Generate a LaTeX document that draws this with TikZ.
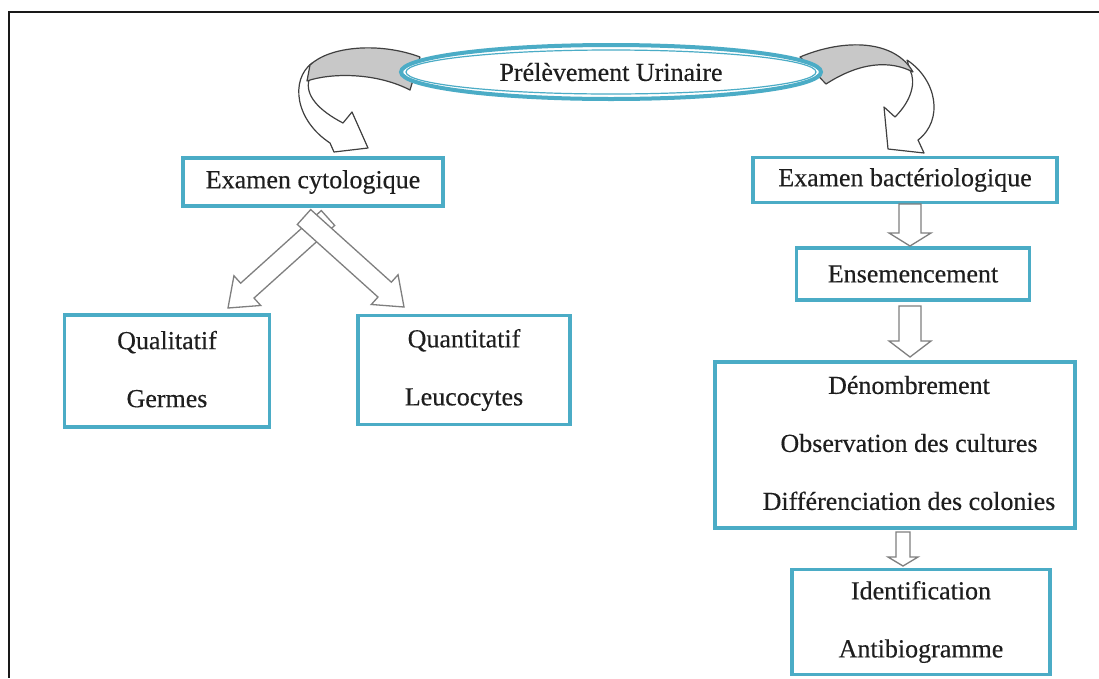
\documentclass[tikz,border=0pt]{standalone}
\usepackage{fontspec}
\setmainfont{Liberation Serif}
\newfontfamily\semibold[FakeBold=0.35]{Liberation Serif}
\usetikzlibrary{calc,shapes.geometric}
\definecolor{teal1}{HTML}{4BACC6}
\definecolor{arrgray}{HTML}{7F7F7F}
\definecolor{tailgray}{HTML}{C8C8C8}
\definecolor{txtc}{HTML}{1E1E1E}
\newcommand\BlkArrow[5]{%
  \path ($(#2)!#5!(#1)$) coordinate (ba-p);
  \draw[blockarr] ($(#1)!#3!90:(#2)$) -- ($(ba-p)!#3!-90:(#1)$) -- ($(ba-p)!#4!-90:(#1)$)
     -- (#2) -- ($(ba-p)!#4!90:(#1)$) -- ($(ba-p)!#3!90:(#1)$) -- ($(#1)!#3!-90:(#2)$) -- cycle;}
\begin{document}
\begin{tikzpicture}[x=1pt,y=-1pt,
  txt/.style={font=\semibold\fontsize{26}{58}\selectfont, text=txtc, align=center, inner sep=0pt},
  box/.style={txt, draw=teal1, line width=3.5pt, rectangle},
  blockarr/.style={draw=arrgray, line width=1.3pt, fill=white, line join=miter},
  curvearr/.style={draw=black!75, line width=1.2pt, fill=white, line join=round},
  tail/.style={draw=black!75, line width=1.2pt, fill=tailgray, line join=round}]
\useasboundingbox (0,0) rectangle (1099,678);
\fill[white] (0,0) rectangle (1099,678);
\draw[line width=2.5pt, black!90] (1099,12) -- (9,12) -- (9,678);

% curved arrows
\draw[curvearr] (312,63) .. controls (290,80) and (295,120) .. (330,143) -- (334,152) -- (368,148)
   -- (352,112) -- (343,123) .. controls (318,110) and (305,95) .. (309,80) -- cycle;
\draw[tail] (420,57) .. controls (380,42) and (330,46) .. (310,65) -- (307,81)
   .. controls (330,73) and (375,72) .. (410,90) -- cycle;
\draw[curvearr] (907,60) .. controls (937,80) and (944,120) .. (918,140) -- (924,153) -- (888,149)
   -- (884,107) -- (895,117) .. controls (912,100) and (916,82) .. (910,70) -- cycle;
\draw[tail] (800,57) .. controls (845,38) and (895,40) .. (913,72)
   .. controls (890,60) and (860,62) .. (826,84) -- cycle;

% title ellipse
\node[txt, ellipse, draw=teal1, fill=white, line width=4pt, minimum width=420pt, minimum height=54pt] (pu) at (611,72) {Prélèvement Urinaire};
\draw[teal1, line width=1.2pt] (pu.center) ellipse [x radius=205pt, y radius=22pt];

% boxes
\node[box, minimum width=260pt, minimum height=48pt] (cyto) at (313,182) {Examen cytologique};
\node[box, minimum width=304pt, minimum height=45pt] (bact) at (905,180) {Examen bactériologique};
\node[box, minimum width=233pt, minimum height=52pt] (ens) at (913,274) {Ensemencement};
\node[box, minimum width=360pt, minimum height=166pt] (big) at (895,445) {};
\node[txt] (bigt) at (909,443) {Dénombrement\\Observation des cultures\\Différenciation des colonies};
\node[box, minimum width=258pt, minimum height=105pt] (ident) at (921,622) {Identification\\Antibiogramme};
\node[box, minimum width=205pt, minimum height=112pt] (qual) at (167,371) {\raisebox{4pt}{Qualitatif}\\\raisebox{4pt}{Germes}};
\node[box, minimum width=212pt, minimum height=109pt] (quant) at (464,370) {\raisebox{2pt}{Quantitatif}\\\raisebox{2pt}{Leucocytes}};

% block arrows
\coordinate (a1s) at (910,204); \coordinate (a1e) at (910,246);
\coordinate (a2s) at (910,306); \coordinate (a2e) at (910,357);
\coordinate (a3s) at (903,532); \coordinate (a3e) at (903,566);
\coordinate (d1s) at (328,218); \coordinate (d1e) at (228,308);
\coordinate (d2s) at (304,217); \coordinate (d2e) at (404,307);
\BlkArrow{d1s}{d1e}{10pt}{20pt}{26pt}
\BlkArrow{d2s}{d2e}{10pt}{20pt}{26pt}
\BlkArrow{a1s}{a1e}{11pt}{21pt}{13pt}
\BlkArrow{a2s}{a2e}{11pt}{21pt}{16pt}
\BlkArrow{a3s}{a3e}{7pt}{15pt}{9pt}
\end{tikzpicture}
\end{document}
